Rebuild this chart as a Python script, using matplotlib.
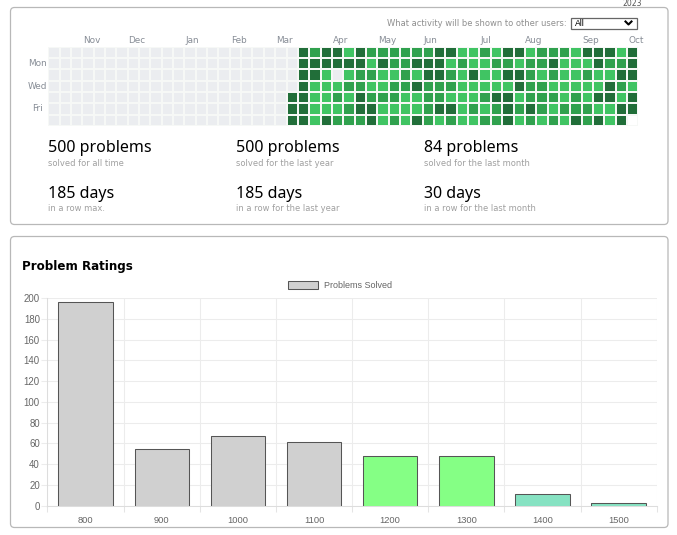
import numpy as np
import matplotlib
matplotlib.use('Agg')
import matplotlib.pyplot as plt
from matplotlib.patches import FancyBboxPatch, Rectangle

W, H = 677, 535

# activity levels, Sunday row first, only the weeks from column 21 on (0 = nothing, 1-3 = greens, -1 = no cell)
row_sun = [0,3,2,3,3,1,3,2,2,2,2, 2,2,3,3,1,1,2,1,3,3, 1,2,2,2,1,3,3,3,1,3]
row_mon = [0,3,3,3,3,3,3,1,3,2,2, 3,3,3,1,2,1,1,2,2,1, 2,2,3,1,1,1,3,2,2,3]
row_tue = [0,3,3,1,0,1,2,2,1,1,2, 1,3,3,2,1,3,1,1,3,3, 2,1,2,1,1,2,1,1,3,3]
row_wed = [0,3,1,1,1,2,2,1,1,2,2, 3,2,2,2,1,1,1,1,1,3, 2,2,1,1,1,1,1,3,2,1]
row_thu = [3,3,1,1,2,1,3,2,2,2,1, 1,2,2,1,1,1,2,3,3,1, 2,2,2,1,2,1,3,3,1,3]
row_fri = [3,3,1,1,1,2,3,3,1,1,1, 1,2,3,3,1,2,1,2,3,2, 3,2,1,2,2,2,1,1,3,3]
row_sat = [3,3,1,3,2,2,2,3,1,2,1, 3,2,1,2,1,1,2,2,3,1, 2,1,2,1,3,2,3,1,3,-1]
first_week = 21
n_weeks = 52

months = ['Nov', 'Dec', 'Jan', 'Feb', 'Mar', 'Apr', 'May', 'Jun', 'Jul', 'Aug', 'Sep', 'Oct']
month_weeks = [3.87, 7.8, 12.7, 16.8, 20.8, 25.8, 29.85, 33.7, 38.6, 42.8, 47.8, 51.8]
day_labels = ['Mon', 'Wed', 'Fri']
day_rows = [1.4, 3.4, 5.4]

stat_titles = ['500 problems', '500 problems', '84 problems', '185 days', '185 days', '30 days']
stat_subs = ['solved for all time', 'solved for the last year', 'solved for the last month',
             'in a row max.', 'in a row for the last year', 'in a row for the last month']

ratings = ['800', '900', '1000', '1100', '1200', '1300', '1400', '1500']
solved = [196, 55, 67, 61, 48, 48, 11, 3]
bar_colors = ['#d0d0d0', '#d0d0d0', '#d0d0d0', '#d0d0d0', '#85ff85', '#85ff85', '#86e2c2', '#86e2c2']

fig = plt.figure(figsize=(W / 100, H / 100), dpi=100)


def axes_px(x0, y0, x1, y1):
    # axes box given in picture pixels, y going down
    return fig.add_axes([x0 / W, 1 - y1 / H, (x1 - x0) / W, (y1 - y0) / H])


# background layer in pixel coordinates for the cards and loose texts
bg = fig.add_axes([0, 0, 1, 1], zorder=-1)
bg.set_xlim(0, W)
bg.set_ylim(H, 0)
bg.axis('off')

for top, bottom in [(7.5, 224.5), (236.5, 527.5)]:
    bg.add_patch(FancyBboxPatch((10.5 + 4, top + 4), 657.5 - 8, bottom - top - 8,
                                boxstyle='round,pad=4', fc='white', ec='#b8b8b8', lw=0.9))

bg.text(632, 3.4, '2023', ha='center', va='center', fontsize=5.6, color='#555555')
bg.text(566.5, 23, 'What activity will be shown to other users:', ha='right', va='center',
        fontsize=6.0, color='#8f8f8f')
bg.add_patch(Rectangle((570.5, 17.5), 66, 11, fc='white', ec='#666666', lw=0.9))
bg.text(574.5, 23, 'All', ha='left', va='center', fontsize=6.2, color='black', family='Liberation Sans')
bg.plot([625.5, 628.5, 631.5], [21.5, 24.5, 21.5], color='black', lw=1.5)

stat_x = [48, 236.5, 424]
stat_y = [148.5, 193.5]
for i in range(len(stat_titles)):
    x = stat_x[i % 3]
    y = stat_y[i // 3]
    bg.text(x, y, stat_titles[i], ha='left', va='center', fontsize=11.5, color='black', family='Noto Sans')
    bg.text(x, y + 14.7, stat_subs[i], ha='left', va='center', fontsize=6.0, color='#a0a0a0')

bg.text(22, 266.5, 'Problem Ratings', ha='left', va='center', fontsize=8.6, fontweight='bold',
        color='black', family='DejaVu Sans')

# heatmap
levels = np.zeros((7, n_weeks))
rows = [row_sun, row_mon, row_tue, row_wed, row_thu, row_fri, row_sat]
for r in range(7):
    levels[r, first_week:] = rows[r]
levels = np.ma.masked_less(levels, 0)

heat = axes_px(48.15, 46.6, 638.35, 126.05)
heat.patch.set_alpha(0)
cmap = matplotlib.colors.ListedColormap(['#ebedf0', '#40c463', '#30a14e', '#216e39'])
heat.pcolormesh(np.arange(n_weeks + 1), np.arange(8), levels, cmap=cmap, vmin=-0.5, vmax=3.5,
                edgecolors='#f6f8f6', linewidth=1.15)
heat.set_ylim(7, 0)
heat.set_xlim(0, n_weeks)
heat.xaxis.tick_top()
heat.set_xticks(month_weeks, months, fontsize=6.4, color='#878d96')
heat.set_yticks(day_rows, day_labels, fontsize=6.4, color='#878d96', ha='center')
heat.tick_params(length=0, pad=1.5)
heat.tick_params(axis='y', pad=7.6)
for s in heat.spines.values():
    s.set_visible(False)

# bar chart
ax = axes_px(47.5, 298.2, 656.7, 505.7)
ax.patch.set_alpha(0)
x = np.arange(len(ratings))
bar_w = 0.714
ax.bar(x, solved, width=bar_w, color=bar_colors, linewidth=0, label='Problems Solved',
       edgecolor='#555555')
# outline without a bottom edge, the chart leaves that side open
for xi, v in zip(x, solved):
    ax.plot([xi - bar_w / 2, xi - bar_w / 2, xi + bar_w / 2, xi + bar_w / 2], [0, v, v, 0],
            color='#555555', lw=0.75, solid_joinstyle='miter')
ax.set_xlim(-0.5, 7.5)
ax.set_ylim(0, 200)
ax.set_yticks(np.arange(0, 201, 20))
ax.set_xticks(x, ratings)
ax.set_xticks(np.arange(-0.5, 8), minor=True)
ax.set_axisbelow(True)
ax.grid(axis='y', color='#ececec', lw=0.75)
ax.grid(axis='x', which='minor', color='#ececec', lw=0.75)
ax.tick_params(axis='x', which='major', length=0, pad=7.5, labelsize=6.7, labelcolor='#666666')
ax.tick_params(axis='x', which='minor', length=4.5, width=0.75, color='#e4e4e4')
ax.tick_params(axis='y', length=4.5, width=0.75, color='#ececec', pad=1, labelsize=6.9, labelcolor='#666666')
for label in ax.get_xticklabels() + ax.get_yticklabels():
    label.set_family('Liberation Sans')
for name, s in ax.spines.items():
    s.set_color('#dddddd')
    s.set_linewidth(0.75)
    s.set_visible(name in ('bottom', 'left'))
handles, labels = ax.get_legend_handles_labels()
leg = ax.legend(handles, labels, loc='center', bbox_to_anchor=(340 / W, 1 - 285.5 / H), bbox_transform=fig.transFigure,
                frameon=False, labelcolor='#666666', handlelength=3.3, handleheight=0.95,
                handletextpad=0.6, borderpad=0, prop={'family': 'Liberation Sans', 'size': 6.5})
for p in leg.get_patches():
    p.set_linewidth(0.75)
    p.set_edgecolor('#555555')

fig.savefig('out.png', dpi=100)
